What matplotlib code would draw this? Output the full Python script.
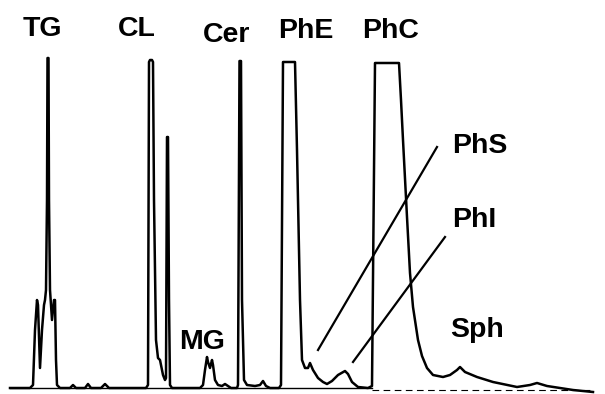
import matplotlib
matplotlib.use("Agg")
import matplotlib.pyplot as plt

# Chromatogram trace: retention position and detector signal
time = [10, 30, 33, 35, 37, 38, 40, 42, 44, 45, 46, 47, 47.5, 48.5, 49, 50, 52, 54, 55, 56, 57, 60,
        70, 73, 76, 85, 88, 91, 101, 105, 109, 146,
        148, 149, 150, 152, 153, 154, 156, 158, 160, 163, 165, 166, 167, 168, 169, 170, 172,
        200, 203, 205, 207, 208, 210, 212, 213, 215, 218, 222, 225, 228, 231, 237,
        238, 239.5, 241, 242, 244, 247, 255, 260, 263, 266, 270, 279,
        281, 283, 295, 297, 300, 302, 305, 308, 310, 313, 318, 323, 327, 332, 338, 345, 348, 352, 358, 368, 372,
        375, 399, 401, 403, 407, 410, 413, 418, 422, 427, 433, 443, 450, 457, 460, 465, 477, 493, 517, 530, 537,
        547, 573, 593]
signal = [0, 0, 3, 58, 88, 83, 20, 58, 83, 88, 98, 188, 330, 330, 188, 98, 68, 88, 88, 28, 3, 0,
          0, 3, 0, 0, 4, 0, 0, 4, 0, 0,
          3, 326, 328, 328, 326, 188, 48, 30, 28, 13, 8, 10, 251, 251, 88, 3, 0,
          0, 3, 18, 31, 26, 20, 28, 23, 8, 3, 2, 4, 2, 0, 0,
          3, 327, 327, 88, 8, 3, 2, 3, 7, 2, 0, 0,
          3, 326, 326, 238, 88, 28, 20, 20, 25, 18, 10, 6, 4, 7, 13, 17, 14, 6, 1, 0, 2,
          325, 325, 288, 248, 171, 115, 81, 48, 32, 20, 13, 11, 13, 18, 21, 16, 11, 6, 1, 3, 5,
          2, -2, -4]

# Peak labels
labels = ["TG", "CL", "Cer", "PhE", "PhC", "PhS", "PhI", "Sph", "MG"]
label_x = [23, 118, 203, 278, 362, 452, 452, 450, 179]
label_y = [352, 352, 346, 350, 350, 235, 161, 51, 39]

# Leader lines (PhS, PhI)
leader_x = [[437, 318], [445, 353]]
leader_y = [[241, 38], [151, 26]]

fig = plt.figure(figsize=(6.05, 3.94), dpi=100)
ax = fig.add_axes([0, 0, 1, 1])
ax.set_xlim(0, 605)
ax.set_ylim(-6, 388)
ax.axis("off")

# baseline
ax.plot([10, 372], [0, 0], color="black", lw=1.0)
ax.plot([372, 590], [-2, -2], color="black", lw=0.8, dashes=(6, 4))

ax.plot(time, signal, color="black", lw=1.8, solid_joinstyle="round")

for lx, ly in zip(leader_x, leader_y):
    ax.plot(lx, ly, color="black", lw=1.6)

for t, x, y in zip(labels, label_x, label_y):
    ax.text(x, y, t, ha="left", va="baseline", fontsize=20.5, fontweight="bold",
            family="Liberation Sans", color="black")

fig.savefig("out.png", dpi=100)
